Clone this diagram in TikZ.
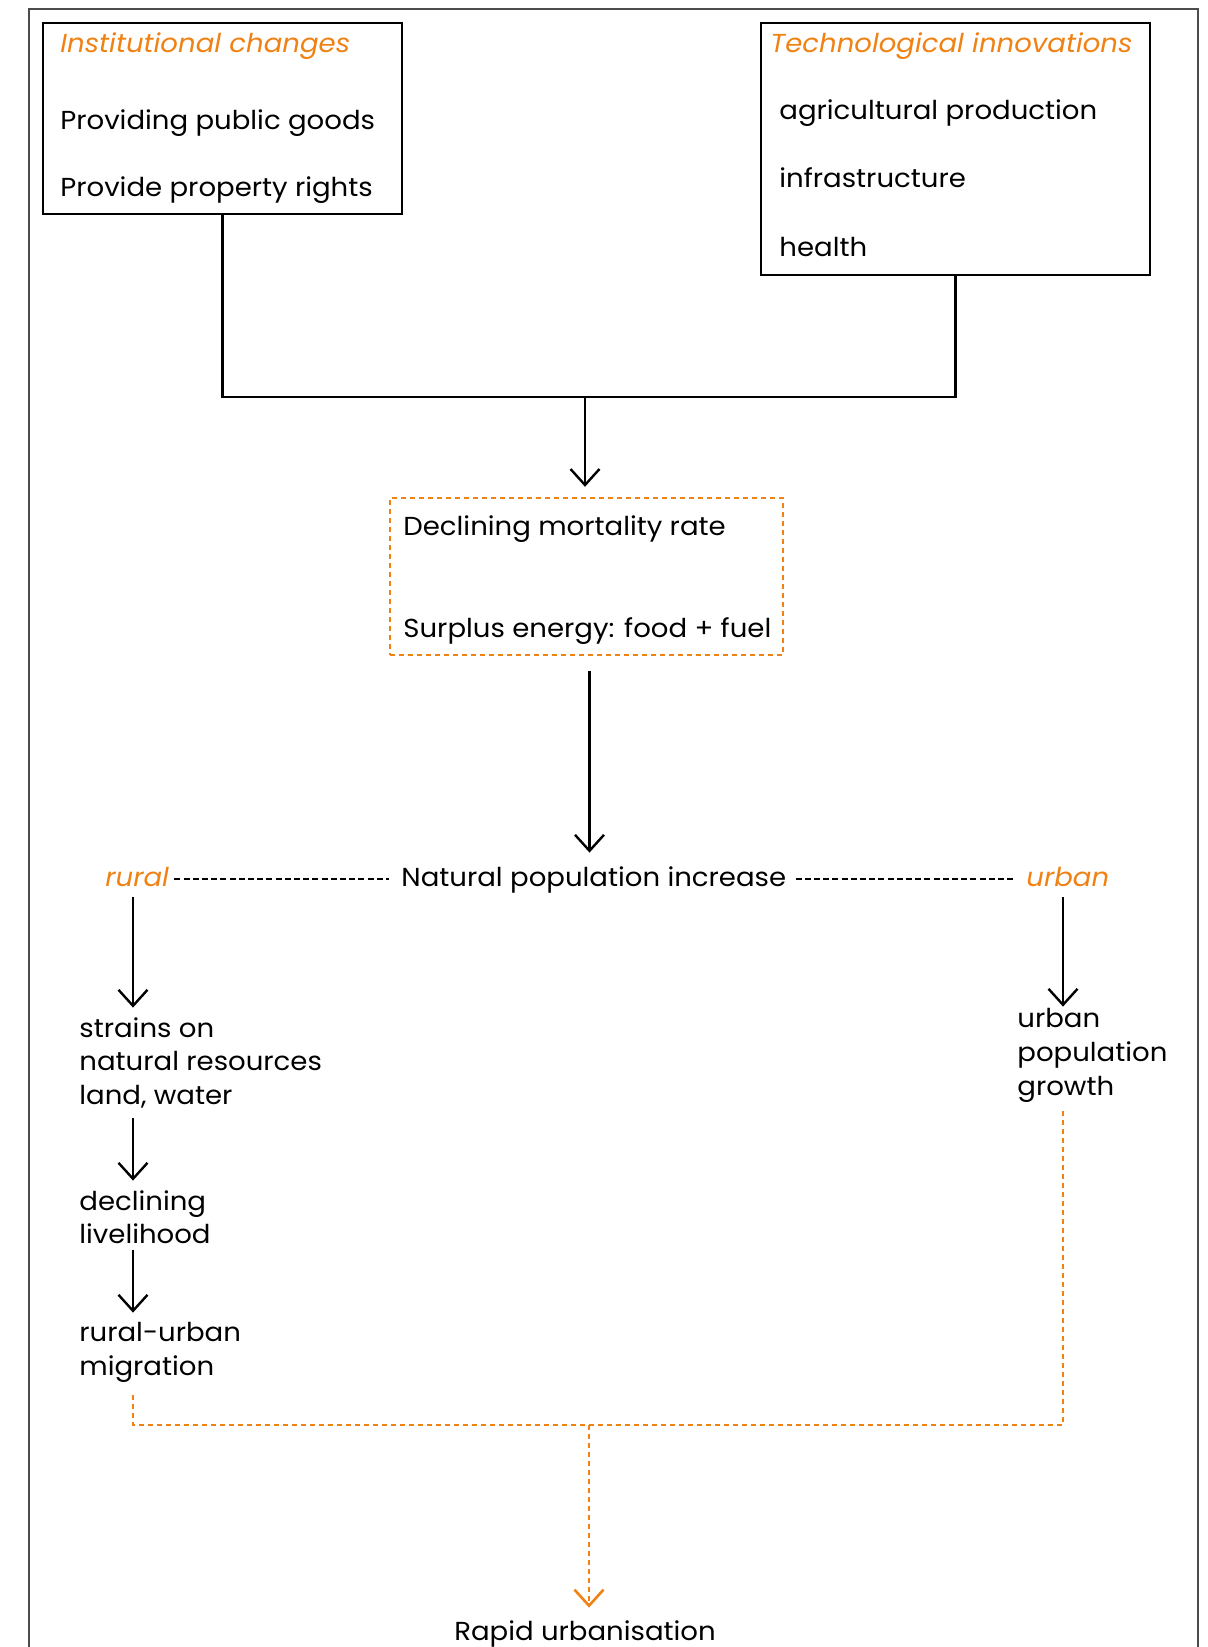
\documentclass[tikz,border=0pt]{standalone}
\usepackage{fontspec}
\setmainfont{Poppins}[FakeStretch=1.06]
\usetikzlibrary{arrows.meta}
\definecolor{orng}{RGB}{240,130,20}
\newcommand{\fs}{\fontsize{13pt}{16pt}\selectfont}
\tikzset{
  frame/.style={draw=black!70, line width=0.7pt},
  box/.style={draw, line width=1.2pt, inner sep=0pt, rectangle},
  obox/.style={draw=orng, line width=1.2pt, dash pattern=on 2.5pt off 2pt, inner sep=0pt, rectangle},
  txt/.style={anchor=base west, inner sep=0pt, font=\fs, text height=9.5pt, text depth=2.5pt},
  otxt/.style={txt, text=orng, font=\fs\itshape},
  ln/.style={line width=1.1pt},
  arr/.style={-{Straight Barb[length=8pt,width=14.5pt,line width=1.2pt]}, line width=1.1pt},
  odash/.style={draw=orng, line width=1.2pt, dash pattern=on 2.5pt off 2pt},
  oarr/.style={odash, -{Straight Barb[length=8pt,width=14.5pt,line width=1.3pt]}},
  kdash/.style={line width=0.7pt, dash pattern=on 3pt off 1.6pt},
}
\begin{document}
\begin{tikzpicture}[x=0.5pt,y=-0.5pt]
\useasboundingbox (0,0) rectangle (1208,1647);
\fill[white] (0,0) rectangle (1208,1647);
\draw[frame] (29,1700) -- (29,9) -- (1198,9) -- (1198,1700);

% top boxes
\node[box, minimum width=179.5pt, minimum height=95.5pt] (box1) at (222.5,118.5) {};
\node[box, minimum width=194.5pt, minimum height=126pt] (box2) at (955.5,149) {};
\node[otxt] (inst) at (60,53) {Institutional changes};
\node[txt] (pub) at (60,130) {Providing public goods};
\node[txt] (prop) at (60,197) {Provide property rights};
\node[otxt] (tech) at (770,53) {Technological innovations};
\node[txt] (agri) at (779,120) {agricultural production};
\node[txt] (infra) at (779,188) {infrastructure};
\node[txt] (health) at (779,257) {health};

% middle box
\node[obox, minimum width=196.5pt, minimum height=78.5pt] (dbox) at (586.5,576.5) {};
\node[txt] (mort) at (403,535) {Declining mortality rate};
\node[txt] (surp) at (403,637) {Surplus energy: food + fuel};

\coordinate (bar) at (585,397);
\draw[ln] (box1.south) |- (bar) -| (box2.south);
\draw[arr, shorten >=5pt] (bar) -- (bar |- dbox.north);

% natural population increase row
\node[otxt] (rural) at (105,886) {rural};
\node[txt] (natural) at (401,886) {Natural population increase};
\node[otxt] (urban) at (1026,886) {urban};
\draw[arr, shorten <=7.5pt, shorten >=7pt] ([xshift=1.5pt]dbox.south) -- ([xshift=1.5pt]dbox.south |- natural.north);
\draw[kdash, shorten <=2.5pt, shorten >=6pt] (rural.east) -- (rural.east -| natural.west);
\draw[kdash, shorten <=4.5pt, shorten >=5.5pt] (natural.east) -- (natural.east -| urban.west);

% rural branch
\node[txt] (s1) at (79,1037) {strains on};
\node[txt] (s2) at (79,1070) {natural resources};
\node[txt] (s3) at (79,1104) {land, water};
\node[txt] (d1) at (79,1210) {declining};
\node[txt] (d2) at (79,1243) {livelihood};
\node[txt] (m1) at (79,1341) {rural-urban};
\node[txt] (m2) at (79,1375) {migration};
\coordinate (rx) at (133,886);
\draw[arr, shorten <=3pt, shorten >=5pt] (rx |- rural.south) -- (rx |- s1.north);
\draw[arr, shorten <=4.5pt, shorten >=5pt] (rx |- s3.south) -- (rx |- d1.north);
\draw[arr, shorten <=1pt, shorten >=4.5pt] (rx |- d2.south) -- (rx |- m1.north);

% urban branch
\node[txt] (u1) at (1017,1027) {urban};
\node[txt] (u2) at (1017,1061) {population};
\node[txt] (u3) at (1017,1095) {growth};
\coordinate (ux) at (1063,886);
\draw[arr, shorten <=3pt, shorten >=0.5pt] (ux |- urban.south) -- (ux |- u1.north);

% bottom
\node[anchor=base, inner sep=0pt, font=\fs, text height=9.5pt, text depth=2.5pt] (rapid) at (585,1640) {Rapid urbanisation};
\coordinate (bar2) at (589,1425);
\draw[odash, shorten <=7.5pt, shorten >=5pt] (rx |- m2.south) -- (rx |- bar2) -| (ux |- u3.south);
\draw[oarr, shorten >=6.5pt] (bar2) -- (bar2 |- rapid.north);
\end{tikzpicture}
\end{document}
